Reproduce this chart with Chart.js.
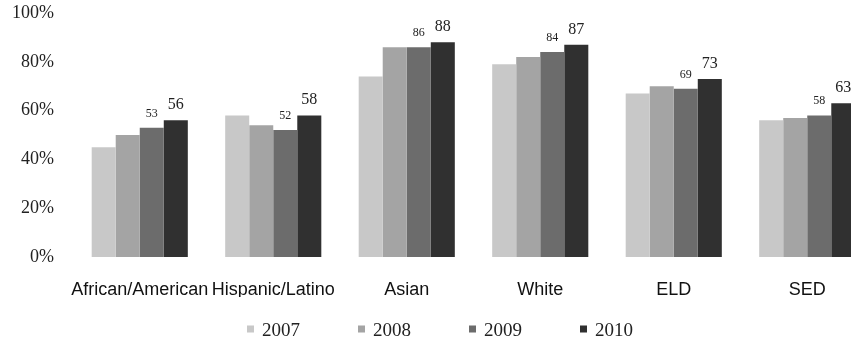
<!DOCTYPE html>
<html>
<head>
<meta charset="utf-8">
<script src="https://cdn.jsdelivr.net/npm/chart.js@4.4.1/dist/chart.umd.min.js"></script>
<style>
  html, body { margin: 0; padding: 0; background: #fff; overflow: hidden; }
  #wrap { position: relative; width: 880px; height: 341px; }
</style>
</head>
<body>
<div id="wrap"><canvas id="rateChart"></canvas></div>
<script>
// Groups along the x axis
const groups = ['African/American', 'Hispanic/Latino', 'Asian', 'White', 'ELD', 'SED'];

// Percent per group, one array per school year
const y2007 = [45, 58, 74, 79, 67, 56];
const y2008 = [50, 54, 86, 82, 70, 57];
const y2009 = [53, 52, 86, 84, 69, 58];
const y2010 = [56, 58, 88, 87, 73, 63];

const years = ['2007', '2008', '2009', '2010'];
const yTicks = [0, 20, 40, 60, 80, 100];

const shades = ['#c8c8c8', '#a4a4a4', '#6c6c6c', '#303030'];
const serif = '"Liberation Serif", "Times New Roman", serif';

// Value labels above the 2009 and 2010 bars
const valueLabels = {
    id: 'valueLabels',
    afterDatasetsDraw(chart) {
        const ctx = chart.ctx;
        const styles = { 2: { size: 12, gap: 11 }, 3: { size: 16, gap: 11 } };
        ctx.save();
        ctx.fillStyle = '#222';
        ctx.textAlign = 'center';
        ctx.textBaseline = 'alphabetic';
        Object.keys(styles).forEach(i => {
            const s = styles[i];
            ctx.font = s.size + 'px ' + serif;
            chart.getDatasetMeta(i).data.forEach((bar, j) => {
                const v = chart.data.datasets[i].data[j];
                ctx.fillText(String(v), bar.x, bar.y - s.gap);
            });
        });
        ctx.restore();
    }
};

// Legend row under the axis labels
const yearLegend = {
    id: 'yearLegend',
    afterDraw(chart) {
        const ctx = chart.ctx;
        const box = 7, gapText = 8, spacing = 58, cy = 329;
        ctx.save();
        ctx.font = '19px ' + serif;
        ctx.textBaseline = 'middle';
        const items = chart.data.datasets.map(ds => ({
            text: ds.label, color: ds.backgroundColor,
            w: box + gapText + ctx.measureText(ds.label).width
        }));
        const total = items.reduce((a, it) => a + it.w, 0) + spacing * (items.length - 1);
        let x = chart.width / 2 - total / 2;
        items.forEach(it => {
            ctx.fillStyle = it.color;
            ctx.fillRect(x, cy - box / 2, box, box);
            ctx.fillStyle = '#222';
            ctx.fillText(it.text, x + box + gapText, cy + 2);
            x += it.w + spacing;
        });
        ctx.restore();
    }
};

const ctx = document.getElementById('rateChart').getContext('2d');
new Chart(ctx, {
    type: 'bar',
    data: {
        labels: groups,
        datasets: [y2007, y2008, y2009, y2010].map((vals, i) => ({
            label: years[i],
            data: vals,
            backgroundColor: shades[i],
            borderWidth: 0,
            barPercentage: 1,
            categoryPercentage: 0.72
        }))
    },
    options: {
        responsive: true,
        maintainAspectRatio: false,
        animation: false,
        layout: { padding: { top: 13, right: 6, bottom: 44, left: 0 } },
        plugins: {
            legend: { display: false },
            tooltip: { enabled: false }
        },
        scales: {
            x: {
                grid: { display: false },
                border: { display: false },
                afterFit: s => { s.height = 40; s.paddingLeft = 0; s.paddingRight = 0; },
                ticks: {
                    padding: 14,
                    maxRotation: 0,
                    minRotation: 0,
                    autoSkip: false,
                    color: '#111',
                    font: { family: '"Liberation Sans Narrow", "Arial Narrow", "Liberation Sans", sans-serif', size: 18 }
                }
            },
            y: {
                min: 0,
                max: 100,
                grid: { display: false },
                border: { display: false },
                afterFit: s => { s.width = 73; s.paddingTop = 0; s.paddingBottom = 0; },
                afterBuildTicks: s => { s.ticks = yTicks.map(v => ({ value: v })); },
                ticks: {
                    padding: 11,
                    color: '#222',
                    font: { family: serif, size: 18 },
                    callback: v => v + '%'
                }
            }
        }
    },
    plugins: [valueLabels, yearLegend]
});
</script>
</body>
</html>
